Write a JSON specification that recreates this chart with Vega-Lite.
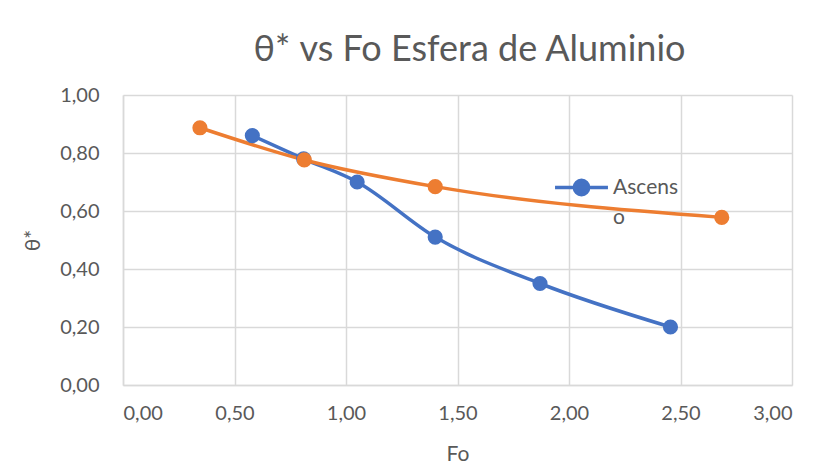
{
  "$schema": "https://vega.github.io/schema/vega-lite/v6.json",
  "width": 669,
  "height": 290,
  "autosize": {"type": "none"},
  "padding": {"left": 123, "top": 95, "right": 29, "bottom": 81},
  "background": "white",
  "config": {
    "font": "Lato",
    "view": {"stroke": null},
    "axis": {
      "labelFont": "Lato",
      "titleFont": "Lato",
      "labelColor": "#595959",
      "titleColor": "#595959",
      "labelFontSize": 20,
      "titleFontSize": 21,
      "titleFontWeight": "normal",
      "gridColor": "#d9d9d9",
      "gridWidth": 1.5,
      "domainColor": "#d9d9d9",
      "domainWidth": 1.5,
      "ticks": false
    }
  },
  "title": {
    "text": "θ* vs Fo Esfera de Aluminio",
    "font": "Lato",
    "fontSize": 36,
    "fontWeight": "normal",
    "color": "#595959",
    "anchor": "middle",
    "offset": 16,
    "dx": 12
  },
  "data": {
    "values": [
      {"serie": "Ascenso", "Fo": 0.58, "theta": 0.86},
      {"serie": "Ascenso", "Fo": 0.81, "theta": 0.78},
      {"serie": "Ascenso", "Fo": 1.05, "theta": 0.70},
      {"serie": "Ascenso", "Fo": 1.40, "theta": 0.51},
      {"serie": "Ascenso", "Fo": 1.87, "theta": 0.35},
      {"serie": "Ascenso", "Fo": 2.455, "theta": 0.20},
      {"serie": "Serie2", "Fo": 0.345, "theta": 0.887},
      {"serie": "Serie2", "Fo": 0.813, "theta": 0.776},
      {"serie": "Serie2", "Fo": 1.40, "theta": 0.684},
      {"serie": "Serie2", "Fo": 2.685, "theta": 0.578}
    ]
  },
  "encoding": {
    "x": {
      "field": "Fo",
      "type": "quantitative",
      "scale": {"domain": [0, 3], "nice": false},
      "axis": {
        "title": "Fo",
        "values": [0, 0.5, 1, 1.5, 2, 2.5, 3],
        "labelExpr": "replace(format(datum.value, '.2f'), '.', ',')",
        "labelPadding": 18,
        "titlePadding": 20
      }
    },
    "y": {
      "field": "theta",
      "type": "quantitative",
      "scale": {"domain": [0, 1], "nice": false},
      "axis": {
        "title": "θ*",
        "values": [0, 0.2, 0.4, 0.6, 0.8, 1],
        "labelExpr": "replace(format(datum.value, '.2f'), '.', ',')",
        "labelPadding": 24,
        "titlePadding": 16
      }
    },
    "color": {
      "field": "serie",
      "type": "nominal",
      "scale": {"domain": ["Ascenso", "Serie2"], "range": ["#4472C4", "#ED7D31"]},
      "legend": {
        "values": ["Ascenso"],
        "title": null,
        "orient": "none",
        "legendX": 430,
        "legendY": 64,
        "symbolType": "M-1,0L1,0M-0.27,0A0.27,0.27,0,1,0,0.27,0A0.27,0.27,0,1,0,-0.27,0Z",
        "symbolSize": 2800,
        "symbolStrokeWidth": 3.5,
        "labelFont": "Lato",
        "labelFontSize": 21,
        "labelColor": "#595959",
        "labelOffset": 3,
        "labelExpr": "datum.label == 'Ascenso' ? ['Ascens', 'o'] : datum.label",
        "encode": {
          "labels": {"update": {"lineHeight": {"value": 30}, "dy": {"value": 0}}},
          "symbols": {"update": {"fill": {"value": "#4472C4"}, "stroke": {"value": "#4472C4"}, "strokeWidth": {"value": 3.5}}}
        }
      }
    }
  },
  "layer": [
    {
      "mark": {"type": "line", "strokeWidth": 3.5, "interpolate": "monotone"}
    },
    {
      "mark": {"type": "point", "filled": true, "size": 230, "opacity": 1}
    }
  ]
}
